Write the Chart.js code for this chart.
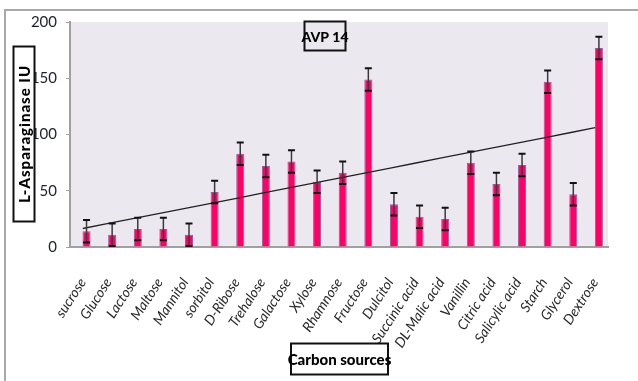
<!DOCTYPE html>
<html>
<head>
<meta charset="utf-8">
<script src="https://cdn.jsdelivr.net/npm/chart.js@4.4.0/dist/chart.umd.min.js"></script>
<style>
  html, body { margin: 0; padding: 0; background: #fff; }
  #wrap { width: 638px; height: 381px; position: relative; }
</style>
</head>
<body>
<div id="wrap"><canvas id="Chart"></canvas></div>
<script>
 // L-asparaginase activity per carbon source, with error bars and linear trend
 const sources = [
   'sucrose', 'Glucose', 'Lactose', 'Maltose', 'Mannitol', 'sorbitol', 'D-Ribose',
   'Trehalose', 'Galactose', 'Xylose', 'Rhamnose', 'Fructose', 'Dulcitol',
   'Succinic acid', 'DL-Malic acid', 'Vanillin', 'Citric acid', 'Salicylic acid',
   'Starch', 'Glycerol', 'Dextrose'
 ];
 const activity = [14, 11, 16, 16, 11, 49, 83, 72, 76, 58, 66, 149, 38, 27, 25, 75, 56, 73, 147, 47, 177];
 const errors = [10, 10, 10, 10, 10, 10, 10, 10, 10, 10, 10, 10, 10, 10, 10, 10, 10, 10, 10, 10, 10];
 const yTicks = [0, 50, 100, 150, 200];

 // least squares trend over the category index
 function trend(values) {
   const n = values.length;
   let sx = 0, sy = 0, sxy = 0, sxx = 0;
   values.forEach((v, i) => { sx += i; sy += v; sxy += i * v; sxx += i * i; });
   const b = (n * sxy - sx * sy) / (n * sxx - sx * sx);
   const a = (sy - b * sx) / n;
   return values.map((v, i) => a + b * i);
 }

 const face = "Lato, 'Liberation Sans', sans-serif";

 // plot background + outer frame
 const bgPlugin = {
   id: 'bg',
   beforeDraw(chart) {
     const c = chart.ctx, a = chart.chartArea;
     c.save();
     c.fillStyle = '#ebe9ef';
     c.fillRect(a.left, a.top, a.right - a.left, a.bottom - a.top);
     c.strokeStyle = '#a9a9a9';
     c.lineWidth = 2;
     c.beginPath();
     c.moveTo(5, 381);
     c.lineTo(5, 10);
     c.lineTo(638, 10);
     c.stroke();
     c.restore();
   }
 };

 // error bars on the activity bars
 const errPlugin = {
   id: 'errbars',
   afterDatasetsDraw(chart) {
     const c = chart.ctx, y = chart.scales.y;
     const meta = chart.getDatasetMeta(2);
     c.save();
     meta.data.forEach((bar, i) => {
       const hi = y.getPixelForValue(activity[i] + errors[i]);
       const lo = y.getPixelForValue(activity[i] - errors[i]);
       c.strokeStyle = '#3a3a3a';
       c.lineWidth = 1.5;
       c.beginPath();
       c.moveTo(bar.x, hi);
       c.lineTo(bar.x, lo);
       c.stroke();
       c.strokeStyle = '#111';
       c.lineWidth = 2;
       c.beginPath();
       c.moveTo(bar.x - 3.5, hi); c.lineTo(bar.x + 3.5, hi);
       c.moveTo(bar.x - 3.5, lo); c.lineTo(bar.x + 3.5, lo);
       c.stroke();
     });
     c.restore();
   }
 };

 function boxLabel(c, text, cx, cy, w, h, font, rotate, fill, spacing) {
   c.save();
   c.translate(cx, cy);
   if (rotate) c.rotate(-Math.PI / 2);
   if (fill) { c.fillStyle = fill; c.fillRect(-w / 2, -h / 2, w, h); }
   c.strokeStyle = '#111';
   c.lineWidth = 2;
   c.strokeRect(-w / 2, -h / 2, w, h);
   c.fillStyle = '#000';
   c.font = font;
   c.letterSpacing = spacing || '0px';
   c.textAlign = 'center';
   c.textBaseline = 'middle';
   c.fillText(text, 0, 1);
   c.restore();
 }

 // boxed titles
 const titlePlugin = {
   id: 'boxes',
   afterDraw(chart) {
     const c = chart.ctx;
     boxLabel(c, 'L-Asparaginase IU', 24, 134, 175, 21, "900 15px " + face, true, '#fff', '1px');
     boxLabel(c, 'AVP 14', 325, 36, 41, 29, "900 14px " + face, false, null);
     boxLabel(c, 'Carbon sources', 339.5, 359, 97, 31, "900 15px " + face, false, '#fff');
   }
 };

 const ctx = document.getElementById('Chart').getContext('2d');
 const myChart = new Chart(ctx, {
   data: {
     labels: sources,
     datasets: [
       { type: 'line', label: 'trend', data: trend(activity), borderColor: '#222', borderWidth: 1.3,
         pointRadius: 0, fill: false, order: 0 },
       { type: 'bar', label: 'blank', data: [], order: 1 },
       { type: 'bar', label: 'AVP 14', data: activity, backgroundColor: '#ff0066',
         borderColor: '#9a5a9a', borderWidth: 1, order: 1 }
     ]
   },
   options: {
     responsive: true,
     maintainAspectRatio: false,
     animation: false,
     datasets: { bar: { categoryPercentage: 0.58, barPercentage: 1.08 } },
     layout: { padding: { left: 0, right: 30, top: 22, bottom: 0 } },
     plugins: { legend: { display: false }, tooltip: { enabled: false } },
     scales: {
       x: {
         grid: { display: false },
         border: { color: '#a0a0a0', width: 2 },
         ticks: {
           autoSkip: false, maxRotation: 57, minRotation: 57, padding: 20,
           color: '#2a2a2a', font: { family: face, size: 14, style: 'italic' }
         },
         afterFit(s) { s.height = 134; }
       },
       y: {
         min: 0, max: 200,
         grid: { drawOnChartArea: false, drawTicks: true, tickLength: 4, color: '#a0a0a0' },
         border: { color: '#a0a0a0', width: 2 },
         afterBuildTicks(s) { s.ticks = yTicks.map(v => ({ value: v })); },
         ticks: { padding: 9, color: '#1c2130', font: { family: face, size: 15 } },
         afterFit(s) { s.width = 70; }
       }
     }
   },
   plugins: [bgPlugin, errPlugin, titlePlugin]
 });
</script>
</body>
</html>
